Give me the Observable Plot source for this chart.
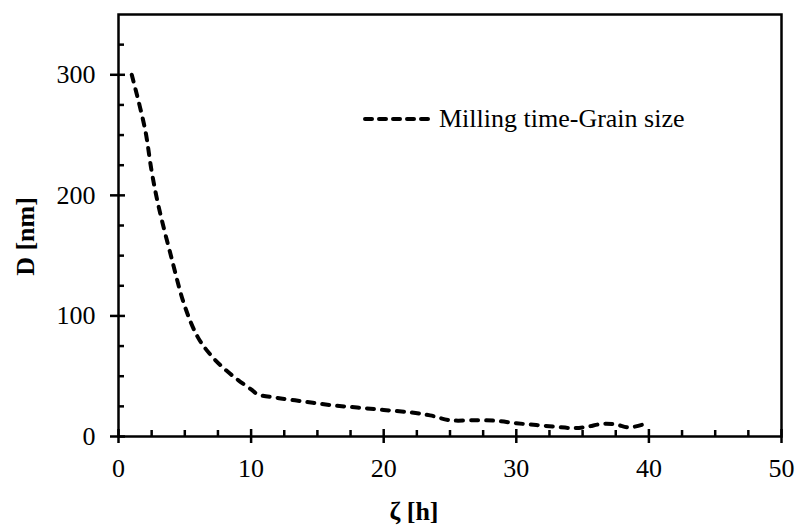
<!DOCTYPE html>
<html><head><meta charset="utf-8">
<script src="https://cdn.jsdelivr.net/npm/d3@7"></script>
<script src="https://cdn.jsdelivr.net/npm/@observablehq/plot@0.6"></script>
<style>
body{margin:0;background:#fff}
#wrap{position:relative;width:797px;height:526px;font-family:"Liberation Serif","Times New Roman",serif}
#legend{position:absolute;left:363px;top:104px;display:flex;align-items:center;font-size:26px;color:#000;white-space:nowrap}
#legend svg{display:block}
</style>
</head><body><div id="wrap"></div>
<script>
const millingTime = [1, 2, 2.5, 3, 4, 5, 6, 7, 8, 9, 10, 10.5, 12, 14, 16, 18, 20, 22, 23.5, 25, 27, 28.5, 30, 31.5, 33, 34.3, 35.3, 36.5, 37.5, 38.5, 39.7];
const grainSize   = [300, 255, 220, 192, 148, 108, 82, 67, 56, 47, 39, 35, 32, 29, 26, 24, 22, 20, 17.5, 13.5, 13.5, 13, 11, 9.5, 8, 7, 8, 10.5, 10, 7.5, 10.5];
const xMajorTicks = [0, 10, 20, 30, 40, 50];
const xMinorTicks = [2.5, 5, 7.5, 12.5, 15, 17.5, 22.5, 25, 27.5, 32.5, 35, 37.5, 42.5, 45, 47.5];
const yMajorTicks = [0, 100, 200, 300];
const yMinorTicks = [25, 50, 75, 125, 150, 175, 225, 250, 275, 325];
const seriesName = "Milling time-Grain size";
const xLabel = "ζ [h]";
const yLabel = "D [nm]";

const data = millingTime.map((t, i) => ({t, d: grainSize[i]}));

const chart = Plot.plot({
  width: 797,
  height: 526,
  marginLeft: 118,
  marginRight: 16,
  marginTop: 14,
  marginBottom: 90,
  style: {fontFamily: '"Liberation Serif","Times New Roman",serif', fontSize: "26px", color: "#000", background: "#fff"},
  x: {domain: [0, 50]},
  y: {domain: [0, 350]},
  marks: [
    Plot.frame({stroke: "#000", strokeWidth: 2.5}),
    Plot.line(data, {x: "t", y: "d", curve: "catmull-rom", stroke: "#000", strokeWidth: 4, strokeDasharray: "7,8", strokeLinecap: "round"}),
    // x axis
    Plot.axisX({ticks: xMajorTicks, tickSize: 14, dy: -7, strokeWidth: 2.5, text: null, label: null}),
    Plot.axisX({ticks: xMinorTicks, tickSize: 6, dy: -6, strokeWidth: 2.5, text: null, label: null}),
    Plot.axisX({ticks: xMajorTicks, tickSize: 0, tickPadding: 22, fontSize: 26, label: null}),
    // y axis
    Plot.axisY({ticks: yMajorTicks, tickSize: 15, dx: 7, strokeWidth: 2.5, text: null, label: null}),
    Plot.axisY({ticks: yMinorTicks, tickSize: 6, dx: 6, strokeWidth: 2.5, text: null, label: null}),
    Plot.axisY({ticks: yMajorTicks, tickSize: 0, tickPadding: 23, fontSize: 26, label: null}),
    // axis titles
    Plot.text([xLabel], {frameAnchor: "bottom", text: d => d, textAnchor: "middle", lineAnchor: "middle", dx: -36, dy: 75, fontWeight: "bold", fontSize: 26}),
    Plot.text([yLabel], {frameAnchor: "left", text: d => d, textAnchor: "middle", lineAnchor: "middle", rotate: -90, dx: -93, dy: 11, fontWeight: "bold", fontSize: 26})
  ]
});
const wrap = document.getElementById("wrap");
wrap.appendChild(chart);

const legend = document.createElement("div");
legend.id = "legend";
legend.innerHTML = `<svg width="72" height="12"><line x1="2" y1="6" x2="70" y2="6" stroke="#000" stroke-width="4" stroke-dasharray="7,7" stroke-linecap="round"/></svg><span style="margin-left:4px">${seriesName}</span>`;
wrap.appendChild(legend);
</script>
</body></html>
